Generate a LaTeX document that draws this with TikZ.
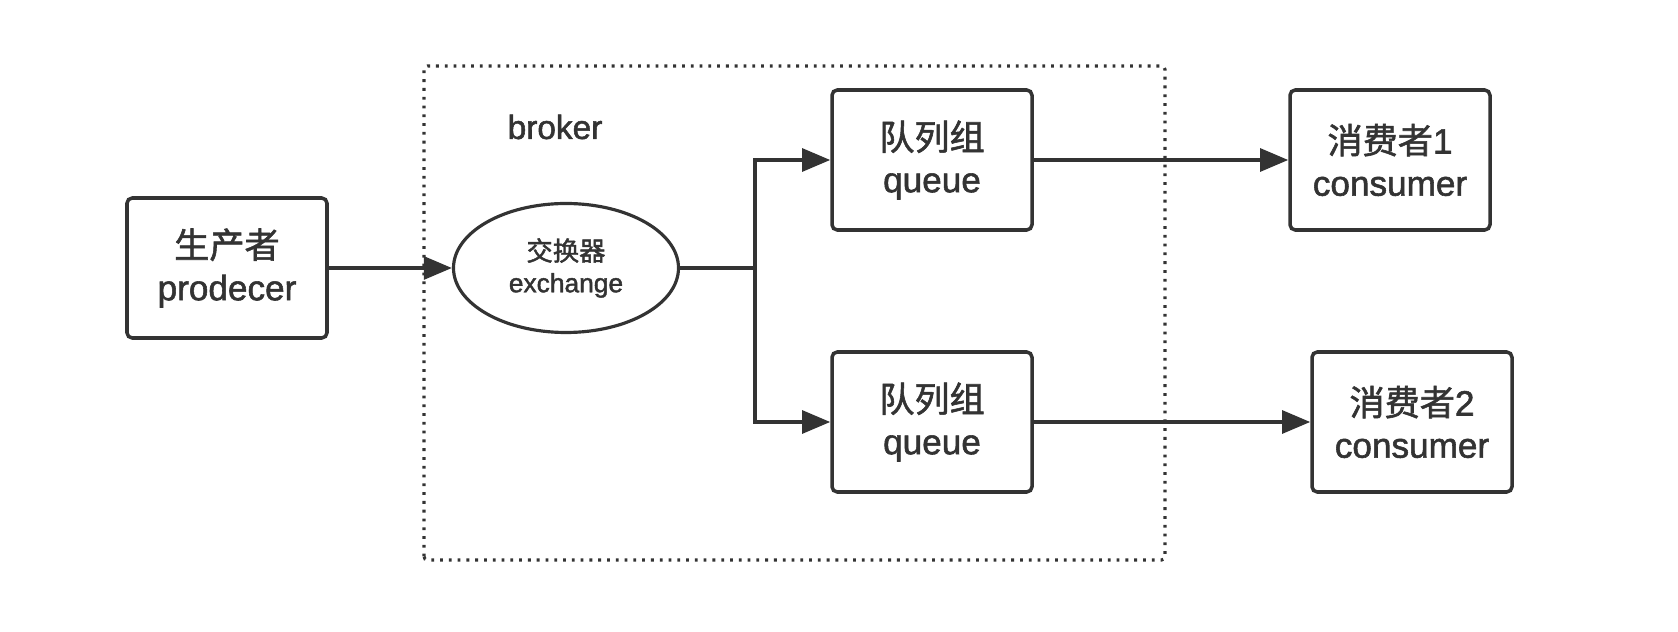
\documentclass[tikz,border=0pt]{standalone}
\usepackage{fontspec}
\setmainfont{Liberation Sans}[FakeBold=1.6]
\newfontfamily\cjk{Noto Sans CJK SC}[FakeBold=1.6]
\usetikzlibrary{arrows.meta,shapes.geometric}
\definecolor{ink}{HTML}{333333}
\tikzset{
    box/.style={draw=ink, line width=2pt, rounded corners=3pt, minimum width=4cm, minimum height=2.8cm, align=center, font=\fontsize{20}{24}\selectfont, text=ink},
    link/.style={draw=ink, line width=2pt, -{Triangle[length=16pt,width=13pt]}}
}
\begin{document}
\begin{tikzpicture}
            \useasboundingbox (0,0) rectangle (33.56,12.64);

            \draw[ink, line width=1.8pt, dash pattern=on 1.6pt off 3.4pt, rounded corners=2pt] (8.48,1.44) rectangle (23.3,11.32);
            \node[text=ink, font=\fontsize{19}{22}\selectfont] (broker) at (11.1,10.1) {broker};

            \node[box] (producer) at (4.54,7.28) {{\cjk 生产者}\\prodecer};
            \node[ellipse, draw=ink, line width=1.8pt, minimum width=4.5cm, minimum height=2.58cm, align=center, text=ink, font=\fontsize{15}{18}\selectfont] (exchange) at (11.32,7.28) {{\cjk 交换器}\\exchange};
            \node[box] (queueA) at (18.64,9.44) {{\cjk 队列组}\\queue};
            \node[box] (queueB) at (18.64,4.2) {{\cjk 队列组}\\queue};
            \node[box] (consumerA) at (27.8,9.44) {{\cjk 消费者}1\\consumer};
            \node[box] (consumerB) at (28.24,4.2) {{\cjk 消费者}2\\consumer};
            \coordinate (fork) at (15.1,7.28);

            \draw[link] (producer) -- (exchange);
            \draw[ink, line width=2.8pt] (exchange) -- (fork);
            \draw[link] (fork) |- (queueA);
            \draw[link] (fork) |- (queueB);
            \draw[link] (queueA) -- (consumerA);
            \draw[link] (queueB) -- (consumerB);
        \end{tikzpicture}
\end{document}
